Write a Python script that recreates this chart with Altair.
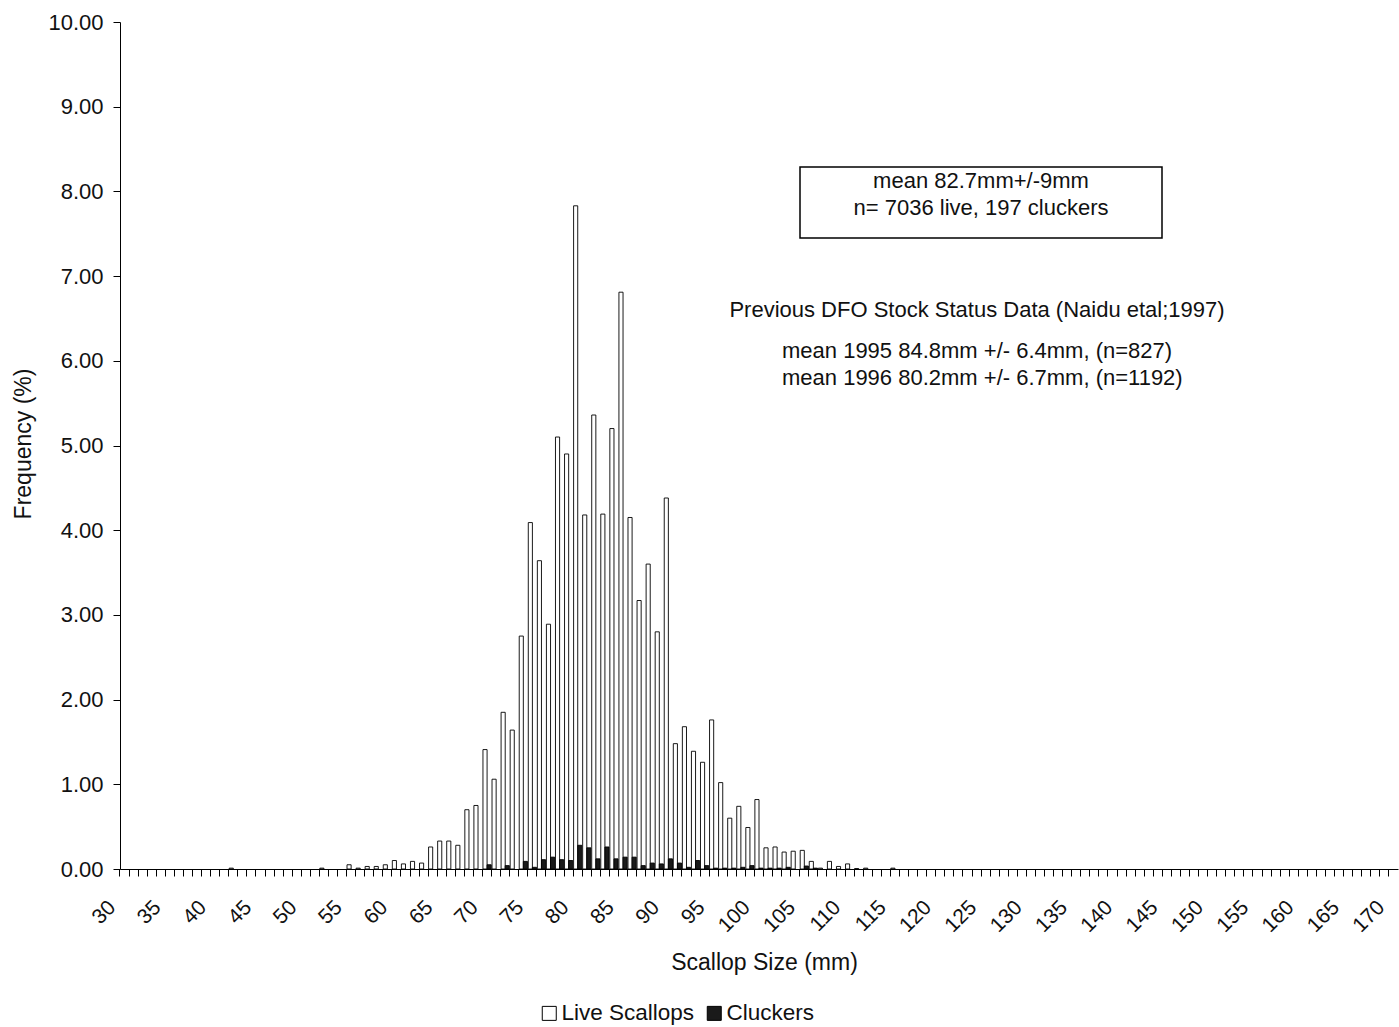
import altair as alt
import pandas as pd

sizes = list(range(30, 171))

live_vals = {
    42: 0.01, 52: 0.01,
    55: 0.05, 56: 0.01, 57: 0.03, 58: 0.03, 59: 0.05, 60: 0.10, 61: 0.06, 62: 0.09,
    63: 0.07, 64: 0.26, 65: 0.33, 66: 0.33, 67: 0.28, 68: 0.70, 69: 0.75,
    70: 1.41, 71: 1.06, 72: 1.85, 73: 1.64, 74: 2.75, 75: 4.09, 76: 3.64, 77: 2.89,
    78: 5.10, 79: 4.90, 80: 7.83, 81: 4.18, 82: 5.36, 83: 4.19, 84: 5.20, 85: 6.81,
    86: 4.15, 87: 3.17, 88: 3.60, 89: 2.80, 90: 4.38, 91: 1.48, 92: 1.68, 93: 1.39,
    94: 1.26, 95: 1.76, 96: 1.02, 97: 0.60, 98: 0.74, 99: 0.49, 100: 0.82,
    101: 0.25, 102: 0.26, 103: 0.20, 104: 0.21, 105: 0.22, 106: 0.09, 107: 0.01,
    108: 0.09, 109: 0.03, 110: 0.06, 111: 0.005, 112: 0.01, 115: 0.01,
}

clucker_vals = {
    70: 0.05, 72: 0.04, 74: 0.09, 75: 0.02, 76: 0.11, 77: 0.14, 78: 0.11, 79: 0.10,
    80: 0.28, 81: 0.25, 82: 0.12, 83: 0.26, 84: 0.12, 85: 0.14, 86: 0.14, 87: 0.04,
    88: 0.07, 89: 0.06, 90: 0.12, 91: 0.07, 92: 0.02, 93: 0.10, 94: 0.04, 95: 0.01,
    96: 0.01, 97: 0.01, 98: 0.02, 99: 0.04, 100: 0.01, 101: 0.01, 102: 0.01,
    103: 0.02, 105: 0.035, 106: 0.01,
}

series_names = ["Live Scallops", "Cluckers"]
box_lines = ["mean 82.7mm+/-9mm", "n= 7036 live, 197 cluckers"]
prev_title = ["Previous DFO Stock Status Data (Naidu etal;1997)"]
prev_lines = ["mean 1995 84.8mm +/- 6.4mm, (n=827)", "mean 1996 80.2mm +/- 6.7mm, (n=1192)"]

rows = []
for s in sizes:
    rows.append({"size": s, "series": series_names[0], "value": live_vals.get(s, 0.0)})
    rows.append({"size": s, "series": series_names[1], "value": clucker_vals.get(s, 0.0)})
df = pd.DataFrame(rows)

FONT = "Liberation Sans"
W, H = 1278, 847

bars = alt.Chart(df).transform_filter(alt.datum.value > 0).mark_bar(
    stroke="black", strokeWidth=0.9
).encode(
    x=alt.X("size:O", sort=sizes,
            scale=alt.Scale(domain=sizes, paddingInner=0, paddingOuter=0),
            axis=alt.Axis(title="Scallop Size (mm)", bandPosition=0,
                          labelExpr="datum.value % 5 == 0 ? datum.label : ''",
                          labelAngle=-45, labelAlign="right", labelBaseline="middle",
                          labelOffset=-12, labelPadding=28, tickSize=7, tickColor="black",
                          domainColor="black", labelFontSize=21, labelColor="#111",
                          labelFont=FONT, titleFont=FONT, titleFontSize=23,
                          titleFontWeight="normal", titleColor="#111",
                          titleX=W / 2 + 5, titleY=82,
                          labelOverlap=False, labelBound=False, labelFlush=False)),
    xOffset=alt.XOffset("series:N", scale=alt.Scale(domain=series_names, paddingOuter=0.1,
                                                     paddingInner=0)),
    y=alt.Y("value:Q", scale=alt.Scale(domain=[0, 10], nice=False),
            axis=alt.Axis(title="Frequency (%)", format=".2f", values=list(range(0, 11)),
                          grid=False, tickSize=7, tickColor="black", domainColor="black",
                          labelFontSize=22, labelColor="#111", labelFont=FONT, labelPadding=10,
                          titleFont=FONT, titleFontSize=23, titleFontWeight="normal",
                          titleColor="#111", titleX=-97, titleY=H / 2 - 2, titleBaseline="middle")),
    fill=alt.Fill("series:N", scale=alt.Scale(domain=series_names, range=["white", "#1a1a1a"]),
                  legend=alt.Legend(title=None, orient="none", legendX=418, legendY=980,
                                    direction="horizontal", symbolType="square",
                                    symbolSize=196, symbolStrokeColor="black",
                                    symbolStrokeWidth=1, labelFont=FONT, labelFontSize=22.5,
                                    labelColor="#111", labelOffset=1, columnPadding=8)),
)

box = alt.Chart(pd.DataFrame({"k": [0]})).mark_rect(
    fill="white", stroke="black", strokeWidth=1.5
).encode(x=alt.value(680), x2=alt.value(1042), y=alt.value(145), y2=alt.value(216))


def text_layer(txt, x, y, align):
    return alt.Chart(pd.DataFrame({"t": [txt]})).mark_text(
        font=FONT, fontSize=22, color="#111", align=align, baseline="middle"
    ).encode(x=alt.value(x), y=alt.value(y), text="t:N")


box_text1 = text_layer(box_lines[0], 861, 159, "center")
box_text2 = text_layer(box_lines[1], 861, 186, "center")
prev_t = text_layer(prev_title[0], 857, 288, "center")
prev_1 = text_layer(prev_lines[0], 662, 329, "left")
prev_2 = text_layer(prev_lines[1], 662, 356, "left")

chart = alt.layer(bars, box, box_text1, box_text2, prev_t, prev_1, prev_2).properties(
    width=W, height=H,
    autosize="none",
    padding={"left": 120, "top": 22, "right": 1, "bottom": 158},
    background="white",
).configure_view(stroke=None)

chart.save("out.html", embed_options={"renderer": "svg", "actions": False})
